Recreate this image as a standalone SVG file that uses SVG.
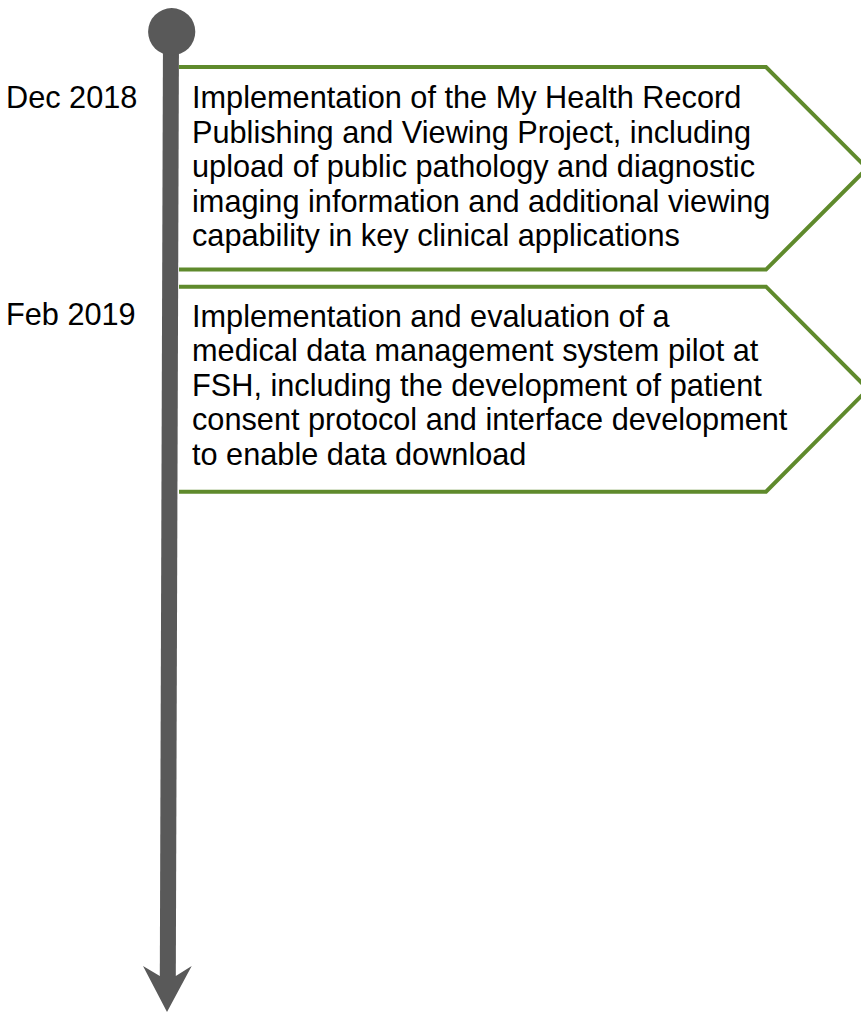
<svg xmlns="http://www.w3.org/2000/svg" width="861" height="1012" viewBox="0 0 861 1012">
  <style>
    .box { fill: #ffffff; stroke: #5f8a2c; stroke-width: 4; stroke-linejoin: miter; }
    .txt { font-family: "Liberation Sans", Arial, sans-serif; font-size: 30.7px; fill: #000000; }
    .axis { stroke: #595959; stroke-width: 16; fill: none; }
    .axisfill { fill: #595959; }
  </style>
  <rect width="861" height="1012" fill="#ffffff"/>
  <g id="event-dec-2018">
    <path class="box" d="M179,67 L766,67 L867,168.3 L766,269.6 L179,269.6"/>
    <text class="txt" x="6" y="108">Dec 2018</text>
    <text class="txt" x="192" y="108">Implementation of the My Health Record</text>
    <text class="txt" x="192" y="142.6">Publishing and Viewing Project, including</text>
    <text class="txt" x="192" y="177.2">upload of public pathology and diagnostic</text>
    <text class="txt" x="192" y="211.8">imaging information and additional viewing</text>
    <text class="txt" x="192" y="246.4">capability in key clinical applications</text>
  </g>
  <g id="event-feb-2019">
    <path class="box" d="M179,286.7 L766,286.7 L868,389.2 L766,491.7 L179,491.7"/>
    <text class="txt" x="6" y="325">Feb 2019</text>
    <text class="txt" x="192" y="326.5">Implementation and evaluation of a</text>
    <text class="txt" x="192" y="361.1">medical data management system pilot at</text>
    <text class="txt" x="192" y="395.7">FSH, including the development of patient</text>
    <text class="txt" x="192" y="430.3">consent protocol and interface development</text>
    <text class="txt" x="192" y="464.9">to enable data download</text>
  </g>
  <g id="connectors">
    <line class="axis" x1="171" y1="32" x2="167.8" y2="978"/>
    <circle class="axisfill" cx="171.7" cy="31.7" r="23.6"/>
    <polygon class="axisfill" points="159.8,976 143,966 167,1012 191.7,966 175.8,976"/>
  </g>
</svg>
